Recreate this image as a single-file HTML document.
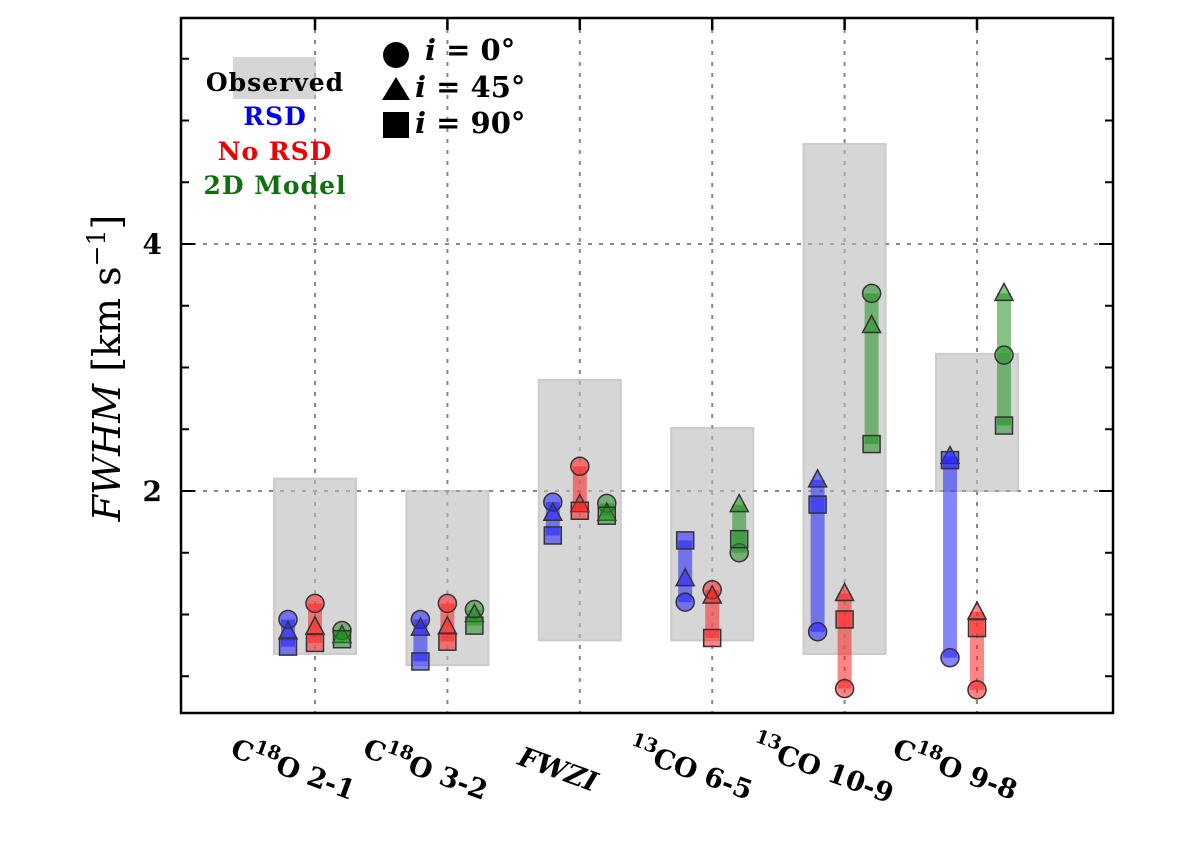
<!DOCTYPE html>
<html><head><meta charset="utf-8"><style>
body{margin:0;background:#fff;}
svg text{font-family:"DejaVu Serif","Liberation Serif",serif;}
</style></head><body>
<svg id="chart" width="1200" height="842" xmlns="http://www.w3.org/2000/svg">
<g id="grid"></g>
<g id="boxes"></g>
<g id="marks"></g>
<rect x="181" y="18" width="932" height="695" fill="none" stroke="#000" stroke-width="2.5"/>
<g id="ticks"></g>
<text transform="translate(120,368) rotate(-90)" text-anchor="middle" font-size="38" font-style="italic">FWHM <tspan font-style="normal">[km s</tspan><tspan font-style="normal" font-size="25" dy="-15">−1</tspan><tspan font-style="normal" dy="15">]</tspan></text>
<g>
<rect x="233" y="57" width="83" height="42" fill="#bbb" opacity="0.6"/>
<text x="275" y="91" text-anchor="middle" font-size="25" font-weight="bold" letter-spacing="1" fill="#000">Observed</text>
<text x="275" y="125" text-anchor="middle" font-size="25" font-weight="bold" letter-spacing="1" fill="#0000ee">RSD</text>
<text x="275" y="160" text-anchor="middle" font-size="25" font-weight="bold" letter-spacing="1" fill="#ee0000">No RSD</text>
<text x="275" y="194" text-anchor="middle" font-size="25" font-weight="bold" letter-spacing="1" fill="#107010">2D Model</text>
<circle cx="396" cy="55" r="13" fill="#000"/>
<polygon points="396,77 410,100 382,100" fill="#000"/>
<rect x="383" y="112" width="26" height="26" fill="#000"/>
<text x="425" y="60" font-size="29" font-weight="bold"><tspan font-style="italic">i</tspan> = 0°</text>
<text x="415" y="97" font-size="29" font-weight="bold"><tspan font-style="italic">i</tspan> = 45°</text>
<text x="415" y="133" font-size="29" font-weight="bold"><tspan font-style="italic">i</tspan> = 90°</text>
</g>
<g id="xlabels"></g>
</svg>
<script>
const categories=["C18O 2-1","C18O 3-2","FWZI","13CO 6-5","13CO 10-9","C18O 9-8"];
const obsTop=[2.1,2.0,2.9,2.51,4.81,3.11];
const obsBottom=[0.68,0.59,0.79,0.79,0.68,2.0];
// [circle(i=0), triangle(i=45), square(i=90)]
const rsd=[[0.96,0.86,0.74],[0.96,0.89,0.62],[1.91,1.82,1.64],[1.1,1.29,1.6],[0.86,2.09,1.89],[0.65,2.28,2.25]];
const noRsd=[[1.09,0.9,0.77],[1.09,0.9,0.78],[2.2,1.89,1.84],[1.2,1.15,0.81],[0.4,1.17,0.96],[0.39,1.02,0.89]];
const model2d=[[0.87,0.83,0.8],[1.04,1.0,0.91],[1.9,1.82,1.8],[1.5,1.89,1.61],[3.6,3.34,2.38],[3.1,3.6,2.53]];
const yTicks=[2,4];
const yMinor=[0.5,1,1.5,2.5,3,3.5,4.5,5,5.5];

const NS="http://www.w3.org/2000/svg";
const y=v=>491-(v-2)*123.5;
const x=i=>315+i*132.4;
function mk(tag,attrs,parent){const e=document.createElementNS(NS,tag);for(const k in attrs)e.setAttribute(k,attrs[k]);parent.appendChild(e);return e;}
const grid=document.getElementById('grid'),boxes=document.getElementById('boxes'),marks=document.getElementById('marks'),ticks=document.getElementById('ticks'),xl=document.getElementById('xlabels');
categories.forEach((c,i)=>{
  const g=mk('line',{x1:x(i),x2:x(i),y1:18,y2:713,stroke:'#888','stroke-dasharray':'4,7','stroke-width':2},grid);
  
  
  const t1=mk('line',{x1:x(i),x2:x(i),y1:18,y2:30,stroke:'#000','stroke-width':2.5},ticks);
  
  
});
yTicks.forEach(v=>{
  const g=mk('line',{x1:181,x2:1113,y1:y(v),y2:y(v),stroke:'#888','stroke-dasharray':'4,7','stroke-width':2},grid);
  
  
  const t=mk('text',{x:162,y:y(v)+10,'text-anchor':'end','font-size':28,'font-weight':'bold'},ticks);t.textContent=v;
  
  
});
yTicks.concat(yMinor).forEach(v=>{
  const L=yTicks.includes(v)?14:8;
  [[181,181+L],[1113-L,1113]].forEach(([a,b])=>{
    const t=mk('line',{x1:a,x2:b,y1:y(v),y2:y(v),stroke:'#000','stroke-width':2},ticks);
    
    
  });
});
categories.forEach((c,i)=>{
  const r=mk('rect',{x:x(i)-41,y:y(obsTop[i]),width:82,height:y(obsBottom[i])-y(obsTop[i]),fill:'#bbb',opacity:0.6,stroke:'#aaa','stroke-width':2},boxes);
  
  
});
const series=[[rsd,'#2020ff',-27,'rsd'],[noRsd,'#ff2020',0,'no-rsd'],[model2d,'#209020',27,'model-2d']];
series.forEach(([data,col,off,name])=>{
  data.forEach((vals,i)=>{
    const cx=x(i)+off,mn=Math.min(...vals),mx=Math.max(...vals);
    const b=mk('rect',{x:cx-7,y:y(mx),width:14,height:y(mn)-y(mx),fill:col,opacity:0.55},marks);
    
    
    const st={fill:col,'fill-opacity':0.55,stroke:'#333','stroke-width':1.5};
    const c=mk('circle',Object.assign({cx:cx,cy:y(vals[0]),r:9},st),marks);
    
    
    const ty=y(vals[1]);
    const t=mk('polygon',Object.assign({points:`${cx},${ty-10} ${cx+9},${ty+7} ${cx-9},${ty+7}`},st),marks);
    
    
    const s=mk('rect',Object.assign({x:cx-8.5,y:y(vals[2])-8.5,width:17,height:17},st),marks);
    
    
  });
});
categories.forEach((c,i)=>{
  const t=mk('text',{'text-anchor':'middle','font-size':27,'font-weight':'bold',transform:`translate(${x(i)-25},778) rotate(20)`},xl);
  
  
  let m=c.match(/^(C)(18)(O .*)$/)||c.match(/^()(13)(CO .*)$/);
  if(m){
    if(m[1]){const a=document.createElementNS(NS,'tspan');a.textContent=m[1];t.appendChild(a);}
    const s=document.createElementNS(NS,'tspan');s.setAttribute('font-size',19);s.setAttribute('dy',-12);s.textContent=m[2];t.appendChild(s);
    const r=document.createElementNS(NS,'tspan');r.setAttribute('dy',12);r.textContent=m[3];t.appendChild(r);
  } else {t.setAttribute('font-style','italic');t.textContent=c;}
});
</script>
</body></html>
